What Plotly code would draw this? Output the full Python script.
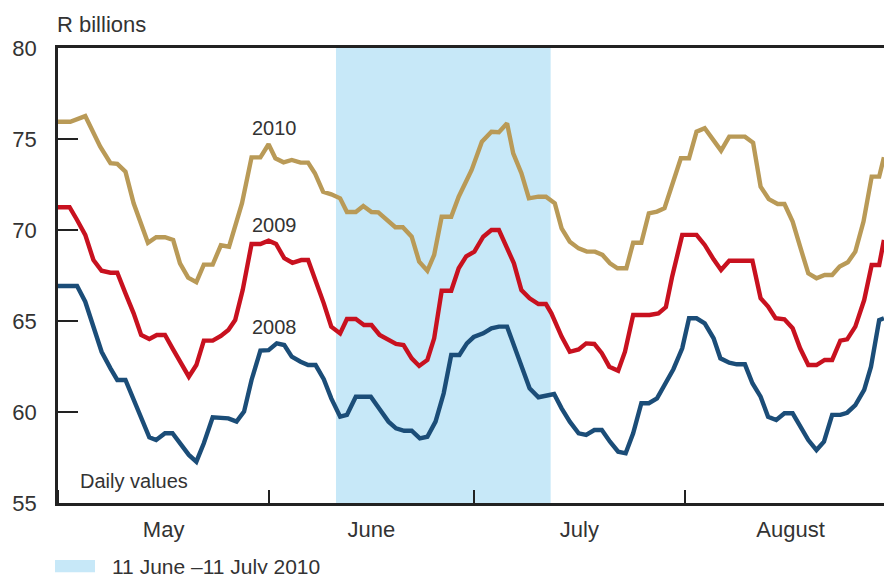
import pandas as pd
import plotly.graph_objects as go

# ---- data (days since 1 May 2010, value in R billions) ----
days_2010 = [0, 1.8, 4.0, 6.2, 7.7, 8.7, 9.9, 11.1, 13.2, 14.4, 15.7, 16.9, 17.9, 19.1, 20.3, 21.4, 22.7, 23.9, 25.1,
             27.0, 28.4, 29.7, 30.9, 31.9, 33.1, 34.3, 35.6, 36.7, 37.7, 38.9, 40.1, 41.4, 42.4, 43.7, 44.8, 46.0,
             47.0, 48.2, 49.5, 50.6, 51.9, 53.0, 54.2, 55.2, 56.3, 57.7, 58.8, 60.7, 62.2, 63.6, 64.7, 65.9, 66.8,
             68.0, 69.1, 70.5, 71.6, 72.9, 73.9, 75.1, 76.4, 77.6, 78.8, 79.9, 81.0, 82.1, 83.4, 84.4, 85.6, 86.7,
             87.9, 89.0, 90.1, 91.4, 92.6, 93.7, 94.9, 96.1, 97.3, 98.5, 99.7, 100.8, 102.0, 103.1, 104.3, 105.6,
             106.6, 107.8, 108.9, 110.1, 111.3, 112.5, 113.6, 114.7, 115.9, 117.0, 118.2, 119.4, 120.5, 121.2]
vals_2010 = [75.95, 75.95, 76.26, 74.58, 73.67, 73.63, 73.2, 71.47, 69.3, 69.6, 69.6, 69.45, 68.17, 67.38, 67.13,
             68.1, 68.1, 69.16, 69.08, 71.47, 73.99, 73.99, 74.71, 73.94, 73.72, 73.85, 73.70, 73.70, 73.12, 72.1,
             71.96, 71.74, 70.99, 70.99, 71.32, 70.99, 70.97, 70.59, 70.15, 70.15, 69.63, 68.26, 67.76, 68.63, 70.73,
             70.73, 71.83, 73.3, 74.85, 75.40, 75.37, 75.86, 74.21, 73.12, 71.74, 71.83, 71.83, 71.47, 70.09, 69.36,
             68.99, 68.81, 68.81, 68.63, 68.17, 67.90, 67.90, 69.30, 69.30, 70.92, 71.01, 71.2, 72.5, 73.94, 73.94,
             75.40, 75.59, 74.95, 74.36, 75.13, 75.13, 75.13, 74.80, 72.38, 71.70, 71.43, 71.43, 70.46, 69.08, 67.62,
             67.35, 67.53, 67.53, 67.99, 68.23, 68.81, 70.46, 72.93, 72.93, 74.0]

days_2009 = [0, 1.7, 2.8, 4.0, 5.2, 6.4, 7.7, 8.7, 9.9, 11.1, 12.2, 13.4, 14.5, 15.7, 16.8, 18.0, 19.2, 20.3, 21.4,
             22.7, 23.9, 25.0, 26.0, 27.1, 28.4, 29.7, 30.9, 32.0, 33.2, 34.4, 35.7, 36.7, 37.9, 39.0, 40.1, 41.4,
             42.4, 43.7, 44.9, 46.0, 47.2, 48.5, 49.6, 50.7, 51.9, 53.0, 54.2, 55.2, 56.3, 57.7, 58.8, 59.9, 61.1,
             62.4, 63.6, 64.7, 65.8, 66.9, 68.0, 69.2, 70.5, 71.6, 72.4, 73.9, 75.1, 76.4, 77.5, 78.7, 79.8, 80.9,
             82.2, 83.2, 84.4, 85.6, 86.8, 88.1, 89.2, 90.1, 90.9, 91.6, 93.7, 94.9, 96.2, 97.3, 98.5, 101.9, 103.1,
             104.2, 105.3, 106.6, 107.8, 108.9, 110.1, 111.3, 112.5, 113.6, 114.8, 115.8, 117.0, 118.3, 119.4, 120.5,
             121.2]
vals_2009 = [71.25, 71.25, 70.55, 69.73, 68.35, 67.76, 67.65, 67.65, 66.52, 65.42, 64.23, 64.01, 64.23, 64.23, 63.50,
             62.76, 61.94, 62.58, 63.92, 63.92, 64.18, 64.51, 65.05, 66.70, 69.23, 69.23, 69.41, 69.23, 68.45, 68.20,
             68.35, 68.35, 67.16, 65.97, 64.69, 64.32, 65.11, 65.11, 64.78, 64.78, 64.23, 63.96, 63.74, 63.68, 62.95,
             62.53, 62.86, 64.05, 66.66, 66.66, 67.90, 68.55, 68.81, 69.63, 70.0, 70.0, 69.08, 68.17, 66.70, 66.25,
             65.93, 65.93, 65.42, 64.14, 63.31, 63.44, 63.77, 63.74, 63.23, 62.49, 62.27, 63.31, 65.33, 65.33, 65.33,
             65.42, 65.76, 67.4, 68.53, 69.73, 69.73, 69.18, 68.39, 67.80, 68.31, 68.31, 66.25, 65.79, 65.15, 65.09,
             64.60, 63.50, 62.58, 62.58, 62.86, 62.86, 63.92, 63.99, 64.69, 66.15, 68.08, 68.08, 69.45]

days_2008 = [0, 2.8, 4.0, 5.2, 6.4, 7.7, 8.7, 9.9, 11.1, 12.2, 13.4, 14.4, 15.7, 16.8, 18.0, 19.2, 20.3, 21.4, 22.7,
             23.9, 25.0, 26.2, 27.3, 28.4, 29.7, 30.9, 32.1, 33.2, 34.3, 35.6, 36.7, 37.8, 39.0, 40.1, 41.4, 42.4,
             43.7, 44.8, 45.9, 47.1, 48.5, 49.6, 50.8, 51.9, 53.1, 54.2, 55.4, 56.6, 57.7, 58.9, 60.0, 61.0, 62.4,
             63.6, 64.7, 65.9, 67.0, 68.2, 69.2, 70.5, 71.7, 72.8, 73.9, 75.1, 76.4, 77.5, 78.7, 79.8, 81.0, 82.2,
             83.3, 84.4, 85.6, 86.7, 87.9, 89.0, 90.3, 91.6, 92.6, 93.7, 94.9, 96.2, 97.2, 98.5, 99.6, 100.8, 101.9,
             103.1, 104.2, 105.4, 106.6, 107.8, 109.0, 110.1, 111.3, 112.4, 113.6, 114.8, 115.8, 117.0, 118.3,
             119.3, 120.5, 121.2]
vals_2008 = [66.92, 66.92, 66.06, 64.69, 63.31, 62.40, 61.76, 61.76, 60.66, 59.56, 58.61, 58.46, 58.83, 58.83, 58.28,
             57.64, 57.27, 58.28, 59.71, 59.71, 59.65, 59.47, 60.02, 61.76, 63.37, 63.4, 63.77, 63.68, 63.04, 62.76,
             62.58, 62.58, 61.80, 60.75, 59.74, 59.84, 60.84, 60.84, 60.84, 60.20, 59.47, 59.10, 58.97, 58.97, 58.55,
             58.64, 59.47, 61.03, 63.13, 63.13, 63.77, 64.12, 64.32, 64.60, 64.69, 64.69, 63.59, 62.40, 61.30, 60.81,
             60.93, 60.99, 60.20, 59.47, 58.83, 58.74, 59.01, 59.01, 58.37, 57.82, 57.73, 58.83, 60.48, 60.48, 60.75,
             61.45, 62.35, 63.50, 65.15, 65.15, 64.87, 64.05, 62.95, 62.71, 62.62, 62.62, 61.58, 60.84, 59.74, 59.56,
             59.93, 59.93, 59.10, 58.46, 57.91, 58.37, 59.84, 59.84, 59.96, 60.38, 61.21, 62.49, 65.05, 65.15]

start_date = pd.Timestamp("2010-05-01")
x_range = ["2010-05-01", "2010-08-30 05:00"]
shade_start = "2010-06-10 19:00"
shade_end = "2010-07-12 07:00"
shade_label = "11 June \u201311 July 2010"

series = [
    ("2008", days_2008, vals_2008, "#1b4d78", 64.67),
    ("2009", days_2009, vals_2009, "#c8111f", 70.27),
    ("2010", days_2010, vals_2010, "#b99a57", 75.6),
]
label_date = "2010-06-01 17:00"

FONT = "Liberation Sans, Arial, sans-serif"
TXT = "#333333"

fig = go.Figure()
for name, d, v, col, _ in series:
    x = start_date + pd.to_timedelta(d, unit="D")
    fig.add_trace(go.Scatter(x=x, y=v, mode="lines", name=name,
                             line=dict(color=col, width=4.4), showlegend=False))

fig.add_shape(type="rect", xref="x", yref="paper", x0=shade_start, x1=shade_end, y0=0, y1=1,
              fillcolor="#c7e8f8", line_width=0, layer="below")

for name, _, _, _, ly in series:
    fig.add_annotation(x=label_date, y=ly, xref="x", yref="y", text=name, showarrow=False,
                       font=dict(size=20, color=TXT, family=FONT), xanchor="center", yanchor="middle")

fig.add_annotation(x=-3 / 826, y=1.0527, xref="paper", yref="paper", text="R billions", showarrow=False,
                   font=dict(size=22, color=TXT, family=FONT), xanchor="left", yanchor="middle")
fig.add_annotation(x=0.0242, y=0.0484, xref="paper", yref="paper", text="Daily values", showarrow=False,
                   font=dict(size=20, color=TXT, family=FONT), xanchor="left", yanchor="middle")

# legend for shaded area
fig.add_shape(type="rect", xref="paper", yref="paper", x0=-3 / 826, x1=37 / 826, y0=-0.152, y1=-0.125,
              fillcolor="#c7e8f8", line_width=0)
fig.add_annotation(x=52 / 826, y=-0.1385, xref="paper", yref="paper", text=shade_label, showarrow=False,
                   font=dict(size=21, color=TXT, family=FONT), xanchor="left", yanchor="middle")

fig.update_xaxes(type="date", range=x_range, dtick="M1", tick0="2010-05-01", ticklabelmode="period",
                 tickformat="%B", ticks="inside", ticklen=13, tickwidth=2, tickcolor="#222222",
                 showline=True, linecolor="#222222", linewidth=2.5, mirror=True, showgrid=False,
                 zeroline=False, ticklabelstandoff=5, automargin=False,
                 tickfont=dict(size=22, color=TXT, family=FONT))
fig.update_yaxes(range=[55, 80], dtick=5, tick0=55, ticks="inside", ticklen=20, tickwidth=2,
                 tickcolor="#222222", showline=True, linecolor="#222222", linewidth=2.5, showgrid=False,
                 zeroline=False, ticklabelstandoff=14, automargin=False,
                 tickfont=dict(size=22, color=TXT, family=FONT))

fig.update_layout(width=884, height=574, margin=dict(l=58, r=0, t=48, b=71, autoexpand=False),
                  plot_bgcolor="white", paper_bgcolor="white")

fig.write_html("out.html", config={"displayModeBar": False},
               post_script="document.body.style.margin='0';document.body.style.overflow='hidden';")
